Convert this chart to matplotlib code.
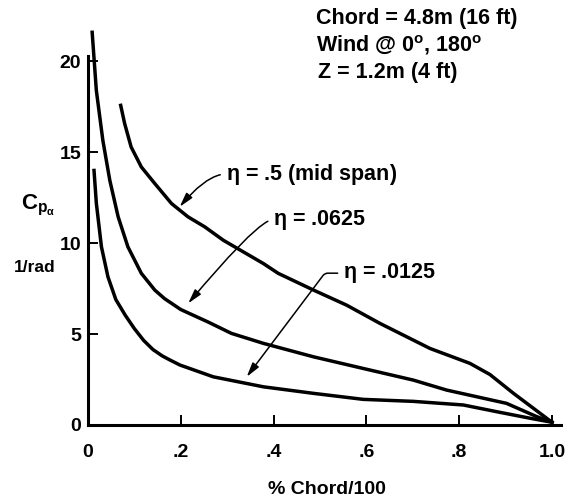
import matplotlib
matplotlib.use("Agg")
import matplotlib.pyplot as plt
from matplotlib.ticker import FixedLocator, FixedFormatter

plt.rcParams["font.family"] = ["Liberation Sans", "DejaVu Sans"]
plt.rcParams["font.weight"] = "bold"
plt.rcParams["mathtext.fontset"] = "custom"
plt.rcParams["mathtext.rm"] = "Liberation Sans:bold"
plt.rcParams["mathtext.it"] = "Liberation Sans:bold"

# eta = .5 (mid span)
x_mid = [0.0705, 0.079, 0.093, 0.115, 0.144, 0.18, 0.2155, 0.2515, 0.2917,
         0.316, 0.378, 0.41, 0.486, 0.5575, 0.629, 0.701, 0.737, 0.823,
         0.866, 0.917, 0.9885, 1.0]
y_mid = [17.58, 16.58, 15.29, 14.19, 13.28, 12.18, 11.45, 10.9, 10.16,
         9.8, 8.88, 8.34, 7.42, 6.59, 5.59, 4.67, 4.21, 3.39,
         2.78, 1.74, 0.37, 0.15]

# eta = .0625
x_0625 = [0.009, 0.018, 0.032, 0.047, 0.065, 0.086, 0.115, 0.144, 0.165, 0.2,
          0.26, 0.309, 0.378, 0.486, 0.593, 0.701, 0.773, 0.902, 0.967, 1.0]
y_0625 = [21.6, 18.4, 15.66, 13.46, 11.45, 9.8, 8.34, 7.42, 6.95, 6.35,
          5.65, 5.04, 4.49, 3.75, 3.11, 2.47, 1.92, 1.19, 0.46, 0.15]

# eta = .0125
x_0125 = [0.013, 0.018, 0.029, 0.043, 0.06, 0.08, 0.1, 0.12, 0.14, 0.16, 0.177,
          0.198, 0.27, 0.378, 0.486, 0.593, 0.701, 0.809, 0.881, 0.953, 1.0]
y_0125 = [14.0, 12.2, 9.8, 8.15, 6.9, 6.05, 5.3, 4.65, 4.15, 3.8, 3.57,
          3.3, 2.65, 2.1, 1.74, 1.41, 1.3, 1.1, 0.73, 0.37, 0.15]

x_ticks = [0.0, 0.2, 0.4, 0.6, 0.8, 1.0]
x_labels = ["0", ".2", ".4", ".6", ".8", "1.0"]
y_ticks = [0, 5, 10, 15, 20]
y_labels = ["0", "5", "10", "15", "20"]

fig = plt.figure(figsize=(5.68, 5.01), dpi=100)
ax = fig.add_axes([0.1549, 0.1517, 0.8415, 0.7984])
ax.set_xlim(0, 1.03)
ax.set_ylim(0, 22)

lw = 2.5
for xs, ys in [(x_mid, y_mid), (x_0625, y_0625), (x_0125, y_0125)]:
    ax.plot(xs, ys, color="black", lw=lw, solid_joinstyle="round", clip_on=False)

for s in ["top", "right"]:
    ax.spines[s].set_visible(False)
ax.spines["left"].set_bounds(0, 20.3)
ax.spines["bottom"].set_bounds(0, 1.02)
ax.spines["left"].set_linewidth(2.2)
ax.spines["bottom"].set_linewidth(2.2)

ax.xaxis.set_major_locator(FixedLocator(x_ticks))
ax.xaxis.set_major_formatter(FixedFormatter(x_labels))
ax.yaxis.set_major_locator(FixedLocator(y_ticks))
ax.yaxis.set_major_formatter(FixedFormatter(y_labels))
ax.tick_params(direction="in", length=7, width=1.4, labelsize=14)
ax.tick_params(axis="x", pad=14)
ax.tick_params(axis="y", pad=5)

ax.set_xlabel("% Chord/100", fontsize=14, fontweight="bold", labelpad=14)

ax.text(-0.108, 12.1, r"C$_{p_\alpha}$", fontsize=16, ha="center", va="center")
ax.text(-0.115, 8.68, "1/rad", fontsize=12.5, ha="center", va="center")

fs = 15.5
arrow = dict(arrowstyle="-|>,head_length=0.55,head_width=0.15", color="black",
             lw=1.1, shrinkA=2, shrinkB=0, relpos=(0, 0.5))
ax.annotate(r"$\eta$ = .5 (mid span)", xy=(0.1976, 12.0), xytext=(0.297, 13.8),
            fontsize=fs, va="center", ha="left",
            arrowprops=dict(arrow, connectionstyle="angle3,angleA=0,angleB=50"))
ax.annotate(r"$\eta$ = .0625", xy=(0.216, 6.69), xytext=(0.399, 11.3),
            fontsize=fs, va="center", ha="left",
            arrowprops=dict(arrow, connectionstyle="angle3,angleA=0,angleB=50"))
ax.annotate(r"$\eta$ = .0125", xy=(0.342, 2.65), xytext=(0.55, 8.35),
            fontsize=fs, va="center", ha="left",
            arrowprops=dict(arrow, connectionstyle="angle,angleA=0,angleB=53,rad=3"))

fig.text(0.557, 0.964, "Chord = 4.8m (16 ft)", fontsize=fs, va="center")
fig.text(0.557, 0.910, r"Wind @ 0$^\mathrm{o}$, 180$^\mathrm{o}$", fontsize=fs, va="center")
fig.text(0.56, 0.856, "Z = 1.2m (4 ft)", fontsize=fs, va="center")

fig.savefig("out.png", dpi=100, facecolor="white")
